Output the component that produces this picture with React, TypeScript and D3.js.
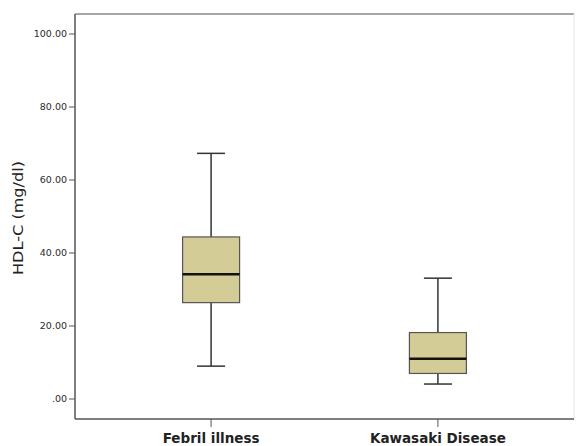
import React from "react";
import * as d3 from "d3";

const categories = ["Febril illness", "Kawasaki Disease"];
const whiskerLow = [9.0, 4.1];
const q1 = [26.4, 7.0];
const medians = [34.2, 11.0];
const q3 = [44.4, 18.2];
const whiskerHigh = [67.3, 33.1];
const yTicks = [0, 20, 40, 60, 80, 100];

const W = 576;
const H = 446;
const left = 75;
const right = 574;
const top = 14;
const bottom = 419;

export default function App() {
  const y = d3.scaleLinear().domain([0, 100]).range([399, 34]);
  const x = d3.scalePoint<string>().domain(categories).range([left, right]).padding(0.6);
  const boxW = 57;
  const capW = 28;
  const font = "'DejaVu Sans', sans-serif";
  return (
    <svg width={W} height={H} style={{ position: "absolute", left: 0, top: 0, background: "#fff" }}>
      {/* frame */}
      <line x1={left} x2={right} y1={top} y2={top} stroke="#8a8a8a" strokeWidth={1.5} />
      <line x1={right} x2={right} y1={top} y2={bottom} stroke="#e4e4e4" strokeWidth={1} />
      <line x1={left} x2={left} y1={top} y2={bottom} stroke="#555" strokeWidth={1.5} />
      <line x1={left} x2={right} y1={bottom} y2={bottom} stroke="#555" strokeWidth={1.5} />
      {/* y ticks */}
      {yTicks.map((t) => (
        <g key={t}>
          <line x1={left - 6} x2={left} y1={y(t)} y2={y(t)} stroke="#555" strokeWidth={1} />
          <text x={left - 8} y={y(t)} dy="0.35em" textAnchor="end" fontSize={9.5} fontFamily={font} fill="#2a2a2a">
            {t === 0 ? ".00" : t.toFixed(2)}
          </text>
        </g>
      ))}
      <text
        transform={`translate(23,218) rotate(-90)`}
        textAnchor="middle"
        fontSize={14.5}
        fontFamily={font}
        fill="#222"
        textLength={114}
        lengthAdjust="spacingAndGlyphs"
      >
        HDL-C (mg/dl)
      </text>
      {/* x ticks */}
      {categories.map((c) => (
        <g key={c}>
          <line x1={x(c)!} x2={x(c)!} y1={bottom} y2={bottom + 8} stroke="#555" strokeWidth={1} />
          <text x={x(c)!} y={443} textAnchor="middle" fontSize={13.5} fontWeight="bold" fontFamily={font} fill="#222">
            {c}
          </text>
        </g>
      ))}
      {/* boxes */}
      {categories.map((c, i) => {
        const cx = x(c)!;
        return (
          <g key={c}>
            <line x1={cx} x2={cx} y1={y(whiskerHigh[i])} y2={y(q3[i])} stroke="#333" strokeWidth={1.5} />
            <line x1={cx} x2={cx} y1={y(q1[i])} y2={y(whiskerLow[i])} stroke="#333" strokeWidth={1.5} />
            <line x1={cx - capW / 2} x2={cx + capW / 2} y1={y(whiskerHigh[i])} y2={y(whiskerHigh[i])} stroke="#333" strokeWidth={1.5} />
            <line x1={cx - capW / 2} x2={cx + capW / 2} y1={y(whiskerLow[i])} y2={y(whiskerLow[i])} stroke="#333" strokeWidth={1.5} />
            <rect
              x={cx - boxW / 2}
              y={y(q3[i])}
              width={boxW}
              height={y(q1[i]) - y(q3[i])}
              fill="#d4cc96"
              stroke="#555"
              strokeWidth={1.2}
            />
            <line x1={cx - boxW / 2} x2={cx + boxW / 2} y1={y(medians[i])} y2={y(medians[i])} stroke="#111" strokeWidth={2.5} />
          </g>
        );
      })}
    </svg>
  );
}
